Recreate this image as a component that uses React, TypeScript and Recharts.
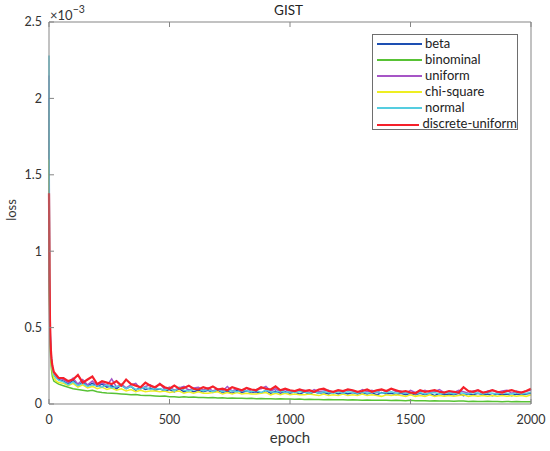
import React from 'react';
import { LineChart, Line, XAxis, YAxis, Label } from 'recharts';

// epochs (x values)
const epochs = [
  0, 2, 4, 6, 8, 10, 14, 20, 30, 40,
  60, 80, 100, 120, 140, 160, 180, 200, 220, 240,
  260, 280, 300, 320, 340, 360, 380, 400, 420, 440,
  460, 480, 500, 520, 540, 560, 580, 600, 620, 640,
  660, 680, 700, 720, 740, 760, 780, 800, 820, 840,
  860, 880, 900, 920, 940, 960, 980, 1000, 1020, 1040,
  1060, 1080, 1100, 1120, 1140, 1160, 1180, 1200, 1220, 1240,
  1260, 1280, 1300, 1320, 1340, 1360, 1380, 1400, 1420, 1440,
  1460, 1480, 1500, 1520, 1540, 1560, 1580, 1600, 1620, 1640,
  1660, 1680, 1700, 1720, 1740, 1760, 1780, 1800, 1820, 1840,
  1860, 1880, 1900, 1920, 1940, 1960, 1980, 2000,
];

// loss values in units of 1e-3
const beta = [
  2.0, 0.8, 0.52, 0.4, 0.33, 0.28, 0.23, 0.19, 0.17, 0.16,
  0.15, 0.13, 0.155, 0.12, 0.145, 0.12, 0.135, 0.115, 0.13, 0.11,
  0.12, 0.10, 0.125, 0.10, 0.115, 0.09, 0.11, 0.095, 0.105, 0.09,
  0.10, 0.085, 0.095, 0.08, 0.10, 0.08, 0.095, 0.08, 0.09, 0.08,
  0.09, 0.075, 0.09, 0.075, 0.085, 0.07, 0.09, 0.075, 0.085, 0.075,
  0.08, 0.07, 0.09, 0.07, 0.085, 0.07, 0.08, 0.07, 0.08, 0.065,
  0.08, 0.065, 0.08, 0.07, 0.075, 0.065, 0.08, 0.065, 0.075, 0.065,
  0.075, 0.065, 0.075, 0.065, 0.075, 0.06, 0.075, 0.065, 0.07, 0.06,
  0.07, 0.06, 0.07, 0.06, 0.07, 0.06, 0.07, 0.055, 0.07, 0.06,
  0.065, 0.06, 0.07, 0.055, 0.065, 0.06, 0.07, 0.06, 0.065, 0.055,
  0.065, 0.06, 0.065, 0.055, 0.065, 0.06, 0.065, 0.07,
];

const binominal = [
  1.95, 0.75, 0.45, 0.33, 0.27, 0.23, 0.18, 0.15, 0.14, 0.13,
  0.12, 0.11, 0.10, 0.095, 0.09, 0.085, 0.09, 0.08, 0.075, 0.072,
  0.07, 0.068, 0.066, 0.064, 0.06, 0.062, 0.058, 0.055, 0.056, 0.053,
  0.05, 0.052, 0.047, 0.048, 0.045, 0.047, 0.044, 0.045, 0.042, 0.043,
  0.041, 0.042, 0.04, 0.041, 0.038, 0.039, 0.037, 0.038, 0.036, 0.037,
  0.035, 0.036, 0.034, 0.035, 0.033, 0.034, 0.032, 0.033, 0.031, 0.032,
  0.03, 0.031, 0.029, 0.03, 0.028, 0.029, 0.028, 0.027, 0.028, 0.026,
  0.027, 0.026, 0.025, 0.026, 0.024, 0.025, 0.024, 0.025, 0.023, 0.024,
  0.023, 0.022, 0.024, 0.021, 0.022, 0.021, 0.02, 0.021, 0.02, 0.019,
  0.02, 0.018, 0.019, 0.02, 0.017, 0.018, 0.017, 0.016, 0.018, 0.017,
  0.016, 0.015, 0.017, 0.015, 0.016, 0.014, 0.015, 0.015,
];

const uniform = [
  2.15, 0.9, 0.58, 0.44, 0.36, 0.31, 0.25, 0.2, 0.18, 0.17,
  0.16, 0.14, 0.17, 0.13, 0.16, 0.125, 0.15, 0.12, 0.14, 0.12,
  0.165, 0.11, 0.13, 0.105, 0.125, 0.135, 0.10, 0.115, 0.125, 0.10,
  0.135, 0.095, 0.11, 0.09, 0.105, 0.115, 0.09, 0.105, 0.11, 0.09,
  0.105, 0.085, 0.10, 0.085, 0.115, 0.085, 0.10, 0.085, 0.105, 0.08,
  0.095, 0.10, 0.115, 0.085, 0.10, 0.08, 0.095, 0.08, 0.085, 0.09,
  0.09, 0.075, 0.095, 0.08, 0.085, 0.09, 0.075, 0.09, 0.08, 0.095,
  0.085, 0.075, 0.095, 0.08, 0.09, 0.075, 0.095, 0.08, 0.10, 0.08,
  0.085, 0.07, 0.09, 0.075, 0.08, 0.09, 0.075, 0.08, 0.095, 0.075,
  0.08, 0.075, 0.09, 0.08, 0.07, 0.085, 0.09, 0.07, 0.085, 0.09,
  0.075, 0.085, 0.09, 0.07, 0.085, 0.075, 0.085, 0.09,
];

const chiSquare = [
  1.6, 0.7, 0.48, 0.37, 0.31, 0.26, 0.21, 0.17, 0.15, 0.14,
  0.135, 0.12, 0.135, 0.11, 0.125, 0.105, 0.115, 0.10, 0.11, 0.095,
  0.105, 0.09, 0.10, 0.085, 0.095, 0.08, 0.09, 0.08, 0.085, 0.085,
  0.08, 0.085, 0.075, 0.08, 0.085, 0.07, 0.08, 0.07, 0.08, 0.07,
  0.07, 0.075, 0.08, 0.065, 0.075, 0.065, 0.075, 0.065, 0.07, 0.065,
  0.065, 0.07, 0.075, 0.06, 0.07, 0.06, 0.07, 0.06, 0.065, 0.06,
  0.06, 0.065, 0.06, 0.055, 0.065, 0.055, 0.06, 0.055, 0.065, 0.055,
  0.06, 0.055, 0.065, 0.055, 0.06, 0.055, 0.05, 0.06, 0.055, 0.06,
  0.055, 0.05, 0.06, 0.05, 0.055, 0.05, 0.06, 0.05, 0.055, 0.05,
  0.055, 0.05, 0.055, 0.06, 0.05, 0.055, 0.05, 0.055, 0.05, 0.055,
  0.05, 0.055, 0.05, 0.055, 0.05, 0.055, 0.05, 0.06,
];

const normal = [
  2.28, 0.88, 0.54, 0.41, 0.34, 0.29, 0.23, 0.19, 0.17, 0.155,
  0.145, 0.125, 0.145, 0.12, 0.135, 0.115, 0.125, 0.12, 0.11, 0.125,
  0.105, 0.115, 0.12, 0.10, 0.115, 0.095, 0.10, 0.11, 0.095, 0.10,
  0.10, 0.09, 0.105, 0.085, 0.11, 0.09, 0.085, 0.095, 0.10, 0.085,
  0.095, 0.08, 0.095, 0.08, 0.09, 0.085, 0.08, 0.09, 0.085, 0.08,
  0.09, 0.075, 0.09, 0.08, 0.075, 0.085, 0.075, 0.08, 0.075, 0.08,
  0.08, 0.07, 0.085, 0.07, 0.08, 0.075, 0.07, 0.08, 0.07, 0.08,
  0.075, 0.07, 0.08, 0.07, 0.075, 0.08, 0.07, 0.075, 0.08, 0.07,
  0.075, 0.07, 0.075, 0.065, 0.075, 0.065, 0.07, 0.075, 0.065, 0.07,
  0.075, 0.065, 0.075, 0.07, 0.065, 0.075, 0.07, 0.065, 0.075, 0.07,
  0.065, 0.075, 0.07, 0.065, 0.075, 0.065, 0.07, 0.075,
];

const discreteUniform = [
  1.38, 0.85, 0.55, 0.42, 0.35, 0.30, 0.25, 0.21, 0.19, 0.17,
  0.17, 0.15, 0.16, 0.19, 0.14, 0.16, 0.18, 0.13, 0.15, 0.14,
  0.13, 0.15, 0.12, 0.16, 0.13, 0.12, 0.11, 0.14, 0.12, 0.11,
  0.13, 0.11, 0.10, 0.12, 0.10, 0.105, 0.12, 0.10, 0.095, 0.11,
  0.10, 0.115, 0.095, 0.10, 0.09, 0.11, 0.10, 0.09, 0.105, 0.095,
  0.09, 0.11, 0.10, 0.095, 0.115, 0.09, 0.10, 0.09, 0.085, 0.095,
  0.085, 0.09, 0.08, 0.095, 0.10, 0.085, 0.08, 0.09, 0.085, 0.095,
  0.09, 0.08, 0.085, 0.095, 0.08, 0.09, 0.095, 0.085, 0.10, 0.09,
  0.08, 0.085, 0.075, 0.07, 0.09, 0.08, 0.085, 0.09, 0.08, 0.075,
  0.085, 0.08, 0.075, 0.11, 0.085, 0.08, 0.09, 0.075, 0.08, 0.09,
  0.08, 0.075, 0.085, 0.09, 0.08, 0.075, 0.085, 0.10,
];

const xTicks = [0, 500, 1000, 1500, 2000];
const yTicks = [0, 0.5, 1, 1.5, 2, 2.5];

const series = [
  { key: 'beta', name: 'beta', color: '#1d4fb2', width: 1.5 },
  { key: 'binominal', name: 'binominal', color: '#58c235', width: 1.5 },
  { key: 'uniform', name: 'uniform', color: '#a655c6', width: 1.5 },
  { key: 'chiSquare', name: 'chi-square', color: '#eeee22', width: 1.5 },
  { key: 'normal', name: 'normal', color: '#55cde0', width: 1.5 },
  { key: 'discreteUniform', name: 'discrete-uniform', color: '#f5202a', width: 2.2 },
];

const data = epochs.map((e, i) => ({
  epoch: e,
  beta: beta[i],
  binominal: binominal[i],
  uniform: uniform[i],
  chiSquare: chiSquare[i],
  normal: normal[i],
  discreteUniform: discreteUniform[i],
}));

const FONT = 'Lato, "Open Sans", sans-serif';
const AXIS = '#858585';
const TEXT = '#333333';

export default function App() {
  return (
    <div style={{ position: 'absolute', left: 0, top: 0, width: 550, height: 451, background: '#fff', fontFamily: FONT }}>
      <LineChart width={550} height={451} data={data} margin={{ top: 21, right: 18, bottom: 0, left: 0 }}>
        <XAxis
          xAxisId="b"
          dataKey="epoch"
          type="number"
          domain={[0, 2000]}
          ticks={xTicks}
          interval={0}
          orientation="bottom"
          height={47}
          tickSize={-5}
          tickMargin={16}
          stroke={AXIS}
          tick={{ fill: TEXT, fontSize: 12.5, fontFamily: FONT }}
        >
          <Label value="epoch" position="insideBottom" offset={8} style={{ fontSize: 15, fill: TEXT, fontFamily: FONT }} />
        </XAxis>
        <XAxis
          xAxisId="t"
          dataKey="epoch"
          type="number"
          domain={[0, 2000]}
          ticks={xTicks}
          interval={0}
          orientation="top"
          height={1}
          tickSize={-5}
          tickFormatter={() => ''}
          stroke={AXIS}
        />
        <YAxis
          yAxisId="l"
          type="number"
          domain={[0, 2.5]}
          ticks={yTicks}
          interval={0}
          width={49}
          tickSize={-5}
          tickMargin={12}
          stroke={AXIS}
          tick={{ fill: TEXT, fontSize: 12.5, fontFamily: FONT }}
        />
        <YAxis
          yAxisId="r"
          orientation="right"
          type="number"
          domain={[0, 2.5]}
          ticks={yTicks}
          interval={0}
          width={1}
          tickSize={-5}
          tickFormatter={() => ''}
          stroke={AXIS}
        />
        {series.map((s) => (
          <Line
            key={s.key}
            xAxisId="b"
            yAxisId="l"
            type="linear"
            dataKey={s.key}
            name={s.name}
            stroke={s.color}
            strokeWidth={s.width}
            dot={false}
            activeDot={false}
            isAnimationActive={false}
          />
        ))}
      </LineChart>

      <svg width={550} height={451} style={{ position: 'absolute', left: 0, top: 0, pointerEvents: 'none' }}>
        <text x={288.5} y={15.3} textAnchor="middle" fontSize={13.5} fill="#222" fontFamily={FONT}>GIST</text>
        <text transform="translate(16,210) rotate(-90)" textAnchor="middle" fontSize={13} fill={TEXT} fontFamily={FONT}>loss</text>
        <text x={50} y={19.5} fontSize={13} fill={TEXT} fontFamily={FONT}>
          ×10<tspan dy={-7} fontSize={10.5}>−3</tspan>
        </text>
      </svg>

      <div
        style={{
          position: 'absolute',
          left: 372,
          top: 34,
          width: 146,
          height: 96,
          boxSizing: 'border-box',
          border: '1px solid #6e6e6e',
          background: '#fff',
        }}
      >
        {series.map((s) => (
          <div key={s.key} style={{ display: 'flex', alignItems: 'center', height: 16.1, fontSize: 13, color: '#222', whiteSpace: 'nowrap' }}>
            <div style={{ marginLeft: 4, width: 45, height: 0, borderTop: `2px solid ${s.color}`, transform: 'translateY(1px)' }} />
            <span style={{ marginLeft: 3, lineHeight: '16.1px' }}>{s.name}</span>
          </div>
        ))}
      </div>
    </div>
  );
}
